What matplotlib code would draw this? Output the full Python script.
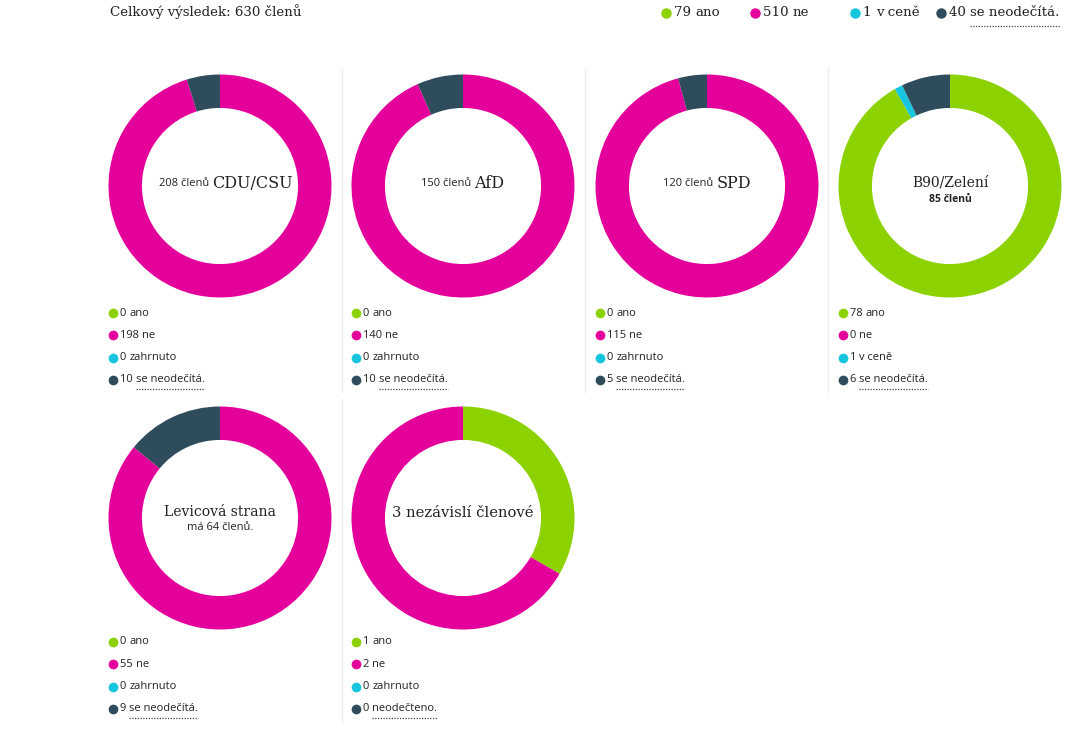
import matplotlib
matplotlib.use("Agg")
import matplotlib.pyplot as plt

# data
parties = ["CDU/CSU", "AfD", "SPD", "B90/Zelení", "Levicová strana", "3 nezávislí členové"]
totals = [208, 150, 120, 85, 64, 3]
ano = [0, 0, 0, 78, 0, 1]
ne = [198, 140, 115, 0, 55, 2]
zahrnuto = [0, 0, 0, 1, 0, 0]
neodecita = [10, 10, 5, 6, 9, 0]
third_label = ["zahrnuto", "zahrnuto", "zahrnuto", "v ceně", "zahrnuto", "zahrnuto"]
fourth_label = ["se neodečítá.", "se neodečítá.", "se neodečítá.", "se neodečítá.",
                "se neodečítá.", "neodečteno."]
total_label = "Celkový výsledek: 630 členů"
total_counts = [79, 510, 1, 40]
total_names = ["ano", "ne", "v ceně", "se neodečítá."]

colors = ["#8cd100", "#e4009a", "#17c6de", "#2f4c5c"]
W, H = 1092, 745
SERIF = "DejaVu Serif"
SANS = "Open Sans"
TXT = "#222222"

fig = plt.figure(figsize=(W / 100, H / 100), dpi=100)
fig.patch.set_facecolor("white")


def fx(x):
    return x / W


def fy(y):
    return 1 - y / H


def put(x, y, s, **kw):
    kw.setdefault("color", TXT)
    return fig.text(fx(x), fy(y), s, **kw)


renderer = fig.canvas.get_renderer()


def width_px(t):
    return t.get_window_extent(renderer).width


def dot(x, y, c, ms):
    fig.add_artist(plt.Line2D([fx(x)], [fy(y)], transform=fig.transFigure,
                              marker="o", ms=ms, color=c, mec="none"))


def dotted_under(t, y):
    bb = t.get_window_extent(renderer)
    fig.add_artist(plt.Line2D([bb.x0 / W, bb.x1 / W], [fy(y), fy(y)],
                              transform=fig.transFigure, color="#444444",
                              lw=0.9, ls=(0, (1, 1.2))))


# header
put(110, 12, total_label, family=SERIF, fontsize=9.6, va="center")

# top legend
leg_x = [666, 755, 855, 941]
for i in range(4):
    dot(leg_x[i], 13, colors[i], 7.5)
    t1 = put(leg_x[i] + 8, 13, f"{total_counts[i]} ", family=SERIF, fontsize=9.6, va="center")
    t2 = put(leg_x[i] + 8 + width_px(t1), 13, total_names[i], family=SERIF,
             fontsize=9.6, va="center")
    if i == 3:
        dotted_under(t2, 26)

# separators
for x, y0, y1 in [(342, 68, 392), (585, 68, 392), (828, 68, 392), (342, 400, 722)]:
    fig.add_artist(plt.Line2D([fx(x), fx(x)], [fy(y0), fy(y1)], transform=fig.transFigure,
                              color="#ececec", lw=1))

col_x = [220, 463, 707, 950]
row_y = [186, 518]
R = 111.5

for k in range(len(parties)):
    row, col = divmod(k, 4)
    cx, cy = col_x[col], row_y[row]
    ax = fig.add_axes([fx(cx - R), fy(cy + R), 2 * R / W, 2 * R / H])
    vals = [ano[k], ne[k], zahrnuto[k], neodecita[k]]
    keep = [i for i in range(4) if vals[i] > 0]
    ax.pie([vals[i] for i in keep], colors=[colors[i] for i in keep], startangle=90,
           counterclock=False, wedgeprops=dict(width=0.3, linewidth=0))
    ax.set_xlim(-1, 1)
    ax.set_ylim(-1, 1)
    ax.set_aspect("equal")
    ax.axis("off")

    # centre text
    name = parties[k]
    if name == "B90/Zelení":
        put(cx, cy - 3, name, family=SERIF, fontsize=10, ha="center", va="center")
        put(cx, cy + 13, f"{totals[k]} členů", family=SANS, fontsize=7.5,
            fontweight="bold", ha="center", va="center")
    elif name == "Levicová strana":
        put(cx, cy - 6, name, family=SERIF, fontsize=10, ha="center", va="center")
        put(cx, cy + 10, f"má {totals[k]} členů.", family=SANS, fontsize=8,
            ha="center", va="center")
    elif k == 5:
        put(cx, cy - 5, name, family=SERIF, fontsize=10.6, ha="center", va="center")
    else:
        a = put(0, cy - 2, f"{totals[k]} členů ", family=SANS, fontsize=8, va="center")
        b = put(0, cy - 2, name, family=SERIF, fontsize=11.5, va="center")
        wa, wb = width_px(a), width_px(b)
        x0 = cx - (wa + wb) / 2 + (6 if k == 0 else 0)
        a.set_x(fx(x0))
        b.set_x(fx(x0 + wa))

    # legend under the donut
    lx = col_x[col] - 107
    ly0 = 313 if row == 0 else 642
    labels = ["ano", "ne", third_label[k], fourth_label[k]]
    for i in range(4):
        y = ly0 + i * 22.3
        dot(lx, y, colors[i], 7)
        t1 = put(lx + 7, y, f"{vals[i]} ", family=SANS, fontsize=8, va="center")
        t2 = put(lx + 7 + width_px(t1), y, labels[i], family=SANS, fontsize=8, va="center")
        if i == 3:
            dotted_under(t2, y + 9)

fig.savefig("out.png", dpi=100, facecolor="white")
